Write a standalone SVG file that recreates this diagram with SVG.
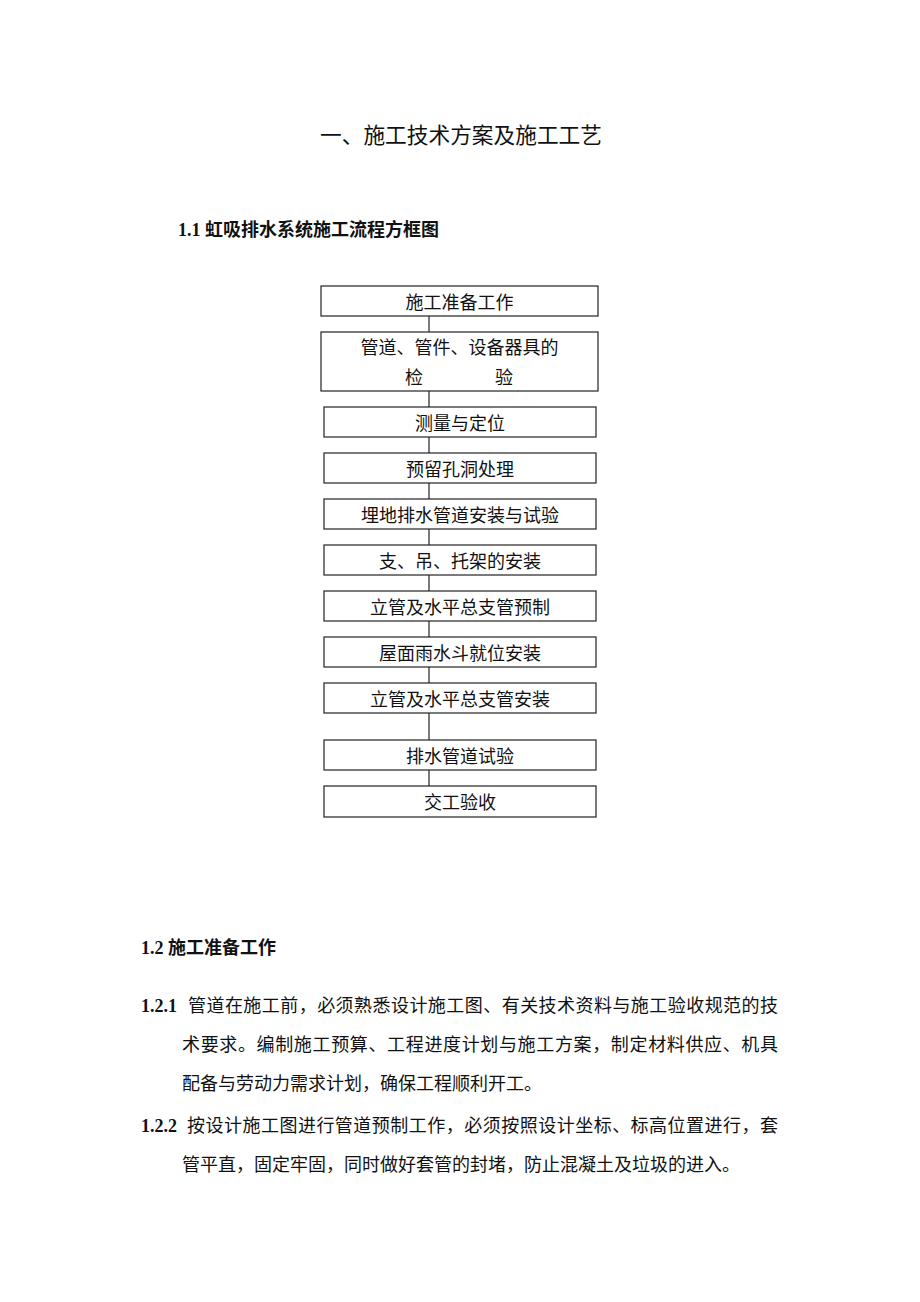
<svg xmlns="http://www.w3.org/2000/svg" width="920" height="1302" viewBox="0 0 920 1302">
<style>
.t{font-family:"Liberation Serif","Noto Sans CJK SC",serif;fill:#111}
.box{fill:#fff;stroke:#222;stroke-width:1.2}
.bt{font-family:"Liberation Serif","Noto Sans CJK SC",serif;font-size:18px;fill:#111;text-anchor:middle}
.h{font-family:"Liberation Serif","Noto Sans CJK SC",serif;font-size:18px;font-weight:bold;fill:#111}
.p{font-family:"Liberation Serif","Noto Sans CJK SC",serif;font-size:18px;fill:#111}
.conn line{stroke:#222;stroke-width:1.2}
</style>
<rect width="920" height="1302" fill="#fff"/>
<text class="t" x="320" y="143" font-size="21.5" textLength="282" lengthAdjust="spacingAndGlyphs">一、施工技术方案及施工工艺</text>
<text class="h" x="178" y="236">1.1 虹吸排水系统施工流程方框图</text>

<g id="connectors" class="conn">
<line x1="429" y1="316" x2="429" y2="332"/>
<line x1="429" y1="391" x2="429" y2="407"/>
<line x1="429" y1="437" x2="429" y2="453"/>
<line x1="429" y1="483" x2="429" y2="499"/>
<line x1="429" y1="529" x2="429" y2="545"/>
<line x1="429" y1="575" x2="429" y2="591"/>
<line x1="429" y1="621" x2="429" y2="637"/>
<line x1="429" y1="667" x2="429" y2="683"/>
<line x1="429" y1="713" x2="429" y2="740"/>
<line x1="429" y1="770" x2="429" y2="786"/>
</g>

<g id="n1"><rect class="box" x="321" y="286" width="277" height="30"/><text class="bt" x="459.5" y="309">施工准备工作</text></g>
<g id="n2"><rect class="box" x="321" y="332" width="277" height="59"/><text class="bt" x="459.5" y="354">管道、管件、设备器具的</text><text class="p" y="384"><tspan x="405">检</tspan><tspan x="495">验</tspan></text></g>
<g id="n3"><rect class="box" x="324" y="407" width="272" height="30"/><text class="bt" x="460" y="430">测量与定位</text></g>
<g id="n4"><rect class="box" x="324" y="453" width="272" height="30"/><text class="bt" x="460" y="476">预留孔洞处理</text></g>
<g id="n5"><rect class="box" x="324" y="499" width="272" height="30"/><text class="bt" x="460" y="522">埋地排水管道安装与试验</text></g>
<g id="n6"><rect class="box" x="324" y="545" width="272" height="30"/><text class="bt" x="460" y="568">支、吊、托架的安装</text></g>
<g id="n7"><rect class="box" x="324" y="591" width="272" height="30"/><text class="bt" x="460" y="614">立管及水平总支管预制</text></g>
<g id="n8"><rect class="box" x="324" y="637" width="272" height="30"/><text class="bt" x="460" y="660">屋面雨水斗就位安装</text></g>
<g id="n9"><rect class="box" x="324" y="683" width="272" height="30"/><text class="bt" x="460" y="706">立管及水平总支管安装</text></g>
<g id="n10"><rect class="box" x="324" y="740" width="272" height="30"/><text class="bt" x="460" y="763">排水管道试验</text></g>
<g id="n11"><rect class="box" x="324" y="786" width="272" height="31"/><text class="bt" x="460" y="809">交工验收</text></g>

<text class="h" x="141" y="954">1.2 施工准备工作</text>
<text class="h" x="141" y="1012">1.2.1</text>
<text class="p" x="188" y="1012" textLength="590" lengthAdjust="spacing">管道在施工前，必须熟悉设计施工图、有关技术资料与施工验收规范的技</text>
<text class="p" x="182" y="1051" textLength="596" lengthAdjust="spacing">术要求。编制施工预算、工程进度计划与施工方案，制定材料供应、机具</text>
<text class="p" x="182" y="1090">配备与劳动力需求计划，确保工程顺利开工。</text>
<text class="h" x="141" y="1132">1.2.2</text>
<text class="p" x="187" y="1132" textLength="591" lengthAdjust="spacing">按设计施工图进行管道预制工作，必须按照设计坐标、标高位置进行，套</text>
<text class="p" x="182" y="1171">管平直，固定牢固，同时做好套管的封堵，防止混凝土及垃圾的进入。</text>
</svg>
